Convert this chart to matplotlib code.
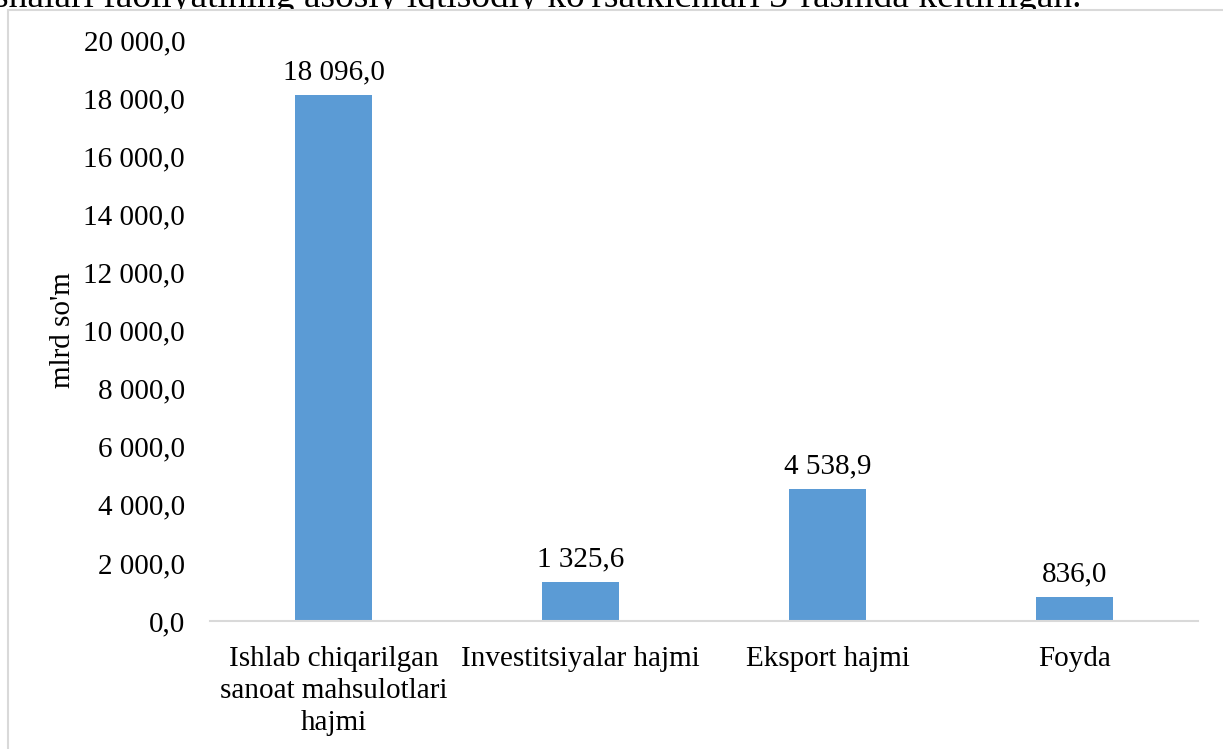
import matplotlib
matplotlib.use("Agg")
import matplotlib.pyplot as plt
from matplotlib.patches import Rectangle

# data
categories = ["Ishlab chiqarilgan\nsanoat mahsulotlari\nhajmi",
              "Investitsiyalar hajmi",
              "Eksport hajmi",
              "Foyda"]
values = [18096.0, 1325.6, 4538.9, 836.0]
y_ticks = [0, 2000, 4000, 6000, 8000, 10000, 12000, 14000, 16000, 18000, 20000]
y_label = "mlrd so'm"
top_line = "shalari faoliyatining asosiy iqtisodiy ko'rsatkichlari 3-rasmda keltirilgan."

BAR_COLOR = "#5b9bd5"
GRID_GRAY = "#d9d9d9"
FS = 21

plt.rcParams['font.family'] = ['Liberation Serif', 'DejaVu Serif']


def fmt(v):
    # "18 096,0" style: space thousands, comma decimal
    s = f"{v:,.1f}"
    return s.replace(",", " ").replace(".", ",")


fig = plt.figure(figsize=(12.23, 7.49), dpi=100)
ax = fig.add_axes([210 / 1223, 128 / 749, 988 / 1223, 581 / 749])
ax.patch.set_visible(False)

x = list(range(len(categories)))
bars = ax.bar(x, values, width=0.31, color=BAR_COLOR, zorder=2)

for b, v in zip(bars, values):
    ax.annotate(fmt(v), (b.get_x() + b.get_width() / 2, v),
                xytext=(0, 7), textcoords="offset points",
                ha="center", va="bottom", fontsize=FS)

ax.set_xlim(-0.5, len(categories) - 0.5)
ax.set_ylim(0, 20000)
ax.set_yticks(y_ticks)
ax.set_yticklabels([fmt(t) for t in y_ticks])
ax.set_xticks(x)
ax.set_xticklabels(categories, linespacing=1.3)

ax.tick_params(axis="both", length=0, labelsize=FS)
ax.tick_params(axis="y", pad=18)
ax.tick_params(axis="x", pad=18)

for side in ["top", "right", "left"]:
    ax.spines[side].set_visible(False)
ax.spines["bottom"].set_color(GRID_GRAY)
ax.spines["bottom"].set_linewidth(1.5)

ax.set_ylabel(y_label, fontsize=FS)
ax.yaxis.set_label_coords(-0.136, 0.5)

# cut-off line of document text above the chart (chart box covers its lower part)
fig.text(-6 / 1223, 1 - 7 / 749, top_line, fontsize=27,
         ha="left", va="baseline", zorder=-3)

# outer chart frame, white filled, cut by the image edge
fig.add_artist(Rectangle((8 / 1223, -0.1), 1.2, 1 - 10 / 749 + 0.1,
                         transform=fig.transFigure, facecolor="white",
                         edgecolor=GRID_GRAY, linewidth=1.5, zorder=-2))

fig.savefig("out.png", dpi=100)
